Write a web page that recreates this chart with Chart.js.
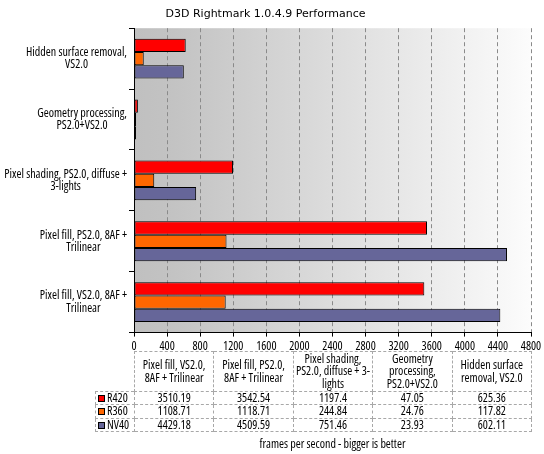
<!DOCTYPE html>
<html><head><meta charset="utf-8">
<script src="https://cdn.jsdelivr.net/npm/chart.js@4.4.1/dist/chart.umd.min.js"></script>
<style>
html,body{margin:0;padding:0;background:#fff;}
#wrap{position:relative;width:544px;height:454px;overflow:hidden;background:#fff;}
#c{position:absolute;left:0;top:0;}
.nf{font-family:'Open Sans','DejaVu Sans',sans-serif;font-stretch:condensed;font-size:12px;color:#000;}
#tbl{position:absolute;border-collapse:collapse;table-layout:fixed;}
#tbl td{border:1px dashed #a8a8a8;padding:0;text-align:center;line-height:12.3px;white-space:nowrap;overflow:hidden;vertical-align:middle;}
#tbl td.blank{border:none;}
#tbl td.leg{text-align:left;padding-left:1px;}
.mk{display:inline-block;width:5px;height:5px;border:1px solid #000;margin:0 2px 0 1px;vertical-align:0px;}
#foot{position:absolute;text-align:center;line-height:12px;}
</style></head>
<body>
<div id="wrap">
<canvas id="c" width="544" height="454"></canvas>
<table id="tbl" class="nf"></table>
<div id="foot" class="nf"></div>
</div>
<script>
// ---- data ----
const categories = [
  'Pixel fill, VS2.0, 8AF + Trilinear',
  'Pixel fill, PS2.0, 8AF + Trilinear',
  'Pixel shading, PS2.0, diffuse + 3-lights',
  'Geometry processing, PS2.0+VS2.0',
  'Hidden surface removal, VS2.0'
];
const axisLabelLines = [
  ['Pixel fill, VS2.0, 8AF +', 'Trilinear'],
  ['Pixel fill, PS2.0, 8AF +', 'Trilinear'],
  ['Pixel shading, PS2.0, diffuse +', '3-lights'],
  ['Geometry processing,', 'PS2.0+VS2.0'],
  ['Hidden surface removal,', 'VS2.0']
];
const tableHeaderLines = [
  ['Pixel fill, VS2.0,', '8AF + Trilinear'],
  ['Pixel fill, PS2.0,', '8AF + Trilinear'],
  ['Pixel shading,', 'PS2.0, diffuse + 3-', 'lights'],
  ['Geometry', 'processing,', 'PS2.0+VS2.0'],
  ['Hidden surface', 'removal, VS2.0']
];
const seriesNames = ['R420', 'R360', 'NV40'];
const r420 = [3510.19, 3542.54, 1197.4, 47.05, 625.36];
const r360 = [1108.71, 1118.71, 244.84, 24.76, 117.82];
const nv40 = [4429.18, 4509.59, 751.46, 23.93, 602.11];
const seriesColors = ['#ff0000', '#ff6600', '#666699'];
const xMin = 0, xMax = 4800, xStep = 400;
const chartTitle = 'D3D Rightmark 1.0.4.9 Performance';
const footerText = 'frames per second - bigger is better';

const seriesData = [r420, r360, nv40];
const FAM = "'Open Sans','DejaVu Sans',sans-serif";
const FSIZE = 12;

const bgPlugin = {
  id: 'bg',
  beforeDraw(chart) {
    const a = chart.chartArea, ctx = chart.ctx;
    const g = ctx.createLinearGradient(a.left, 0, a.right, 0);
    g.addColorStop(0, '#c0c0c0');
    g.addColorStop(0.1, '#c3c3c3');
    g.addColorStop(1, '#fcfcfc');
    ctx.save();
    ctx.fillStyle = g;
    ctx.fillRect(a.left, a.top, a.right - a.left, a.bottom - a.top);
    ctx.restore();
  }
};

const yLabelPlugin = {
  id: 'ylabels',
  afterDraw(chart) {
    const ys = chart.scales.y, ctx = chart.ctx;
    ctx.save();
    ctx.font = 'condensed ' + FSIZE + 'px ' + FAM;
    ctx.fillStyle = '#000';
    ctx.textAlign = 'center';
    ctx.textBaseline = 'middle';
    axisLabelLines.forEach((lines, i) => {
      const y = ys.getPixelForValue(i);
      const w = Math.max(...lines.map(l => ctx.measureText(l).width));
      const cx = ys.right - 7 - w / 2;
      lines.forEach((l, j) => ctx.fillText(l, cx, y + (j - (lines.length - 1) / 2) * 12.3));
    });
    ctx.restore();
  }
};

const chart = new Chart(document.getElementById('c'), {
  type: 'bar',
  data: {
    labels: categories,
    datasets: seriesNames.map((n, i) => ({
      label: n,
      data: seriesData[i],
      backgroundColor: seriesColors[i],
      borderColor: '#000',
      borderWidth: 1,
      borderSkipped: false,
      categoryPercentage: 0.655,
      barPercentage: 1
    }))
  },
  options: {
    indexAxis: 'y',
    responsive: false,
    animation: false,
    events: [],
    layout: { padding: { left: 0, right: 13, top: 0, bottom: 98 } },
    plugins: {
      legend: { display: false },
      tooltip: { enabled: false },
      title: {
        display: true, text: chartTitle, color: '#000',
        font: { family: "'DejaVu Sans', Verdana, sans-serif", size: 11, weight: 'normal' },
        padding: { top: 8, bottom: 7 }
      }
    },
    scales: {
      x: {
        type: 'linear', min: xMin, max: xMax, position: 'bottom',
        ticks: {
          stepSize: xStep, color: '#000', padding: 2.5, maxRotation: 0, autoSkip: false,
          font: { family: FAM, size: FSIZE, weight: 'condensed' },
          callback: v => String(v)
        },
        grid: {
          color: c => (c.tick && c.tick.value === 0) ? 'rgba(0,0,0,0)' : '#8a8a8a',
          tickColor: '#000', tickLength: 4, lineWidth: 1
        },
        border: { color: '#000', width: 1, dash: [4, 3] }
      },
      y: {
        type: 'category', reverse: true, offset: true,
        ticks: { display: false },
        grid: { offset: true, drawOnChartArea: false, tickLength: 5, tickColor: '#000', color: '#000' },
        border: { color: '#000', width: 1 },
        afterFit(s) { s.width = 134; }
      }
    }
  },
  plugins: [bgPlugin, yLabelPlugin]
});

// ---- data table ----
const a = chart.chartArea;
const legW = 39;
const colW = (a.right - a.left) / categories.length;
const tbl = document.getElementById('tbl');
tbl.style.left = (a.left - legW) + 'px';
tbl.style.top = '351px';
tbl.style.width = (legW + colW * categories.length) + 'px';
let html = '<colgroup><col style="width:' + legW + 'px">';
categories.forEach(() => html += '<col style="width:' + colW + 'px">');
html += '</colgroup><tr style="height:40px"><td class="blank"></td>';
tableHeaderLines.forEach(lines => html += '<td>' + lines.join('<br>') + '</td>');
html += '</tr>';
seriesNames.forEach((n, i) => {
  html += '<tr style="height:12px"><td class="leg"><span class="mk" style="background:' + seriesColors[i] + '"></span>' + n + '</td>';
  seriesData[i].forEach(v => html += '<td>' + String(v) + '</td>');
  html += '</tr>';
});
tbl.innerHTML = html;
const foot = document.getElementById('foot');
foot.textContent = footerText;
foot.style.left = a.left + 'px';
foot.style.width = (a.right - a.left) + 'px';
foot.style.top = '438px';
</script>
</body></html>
